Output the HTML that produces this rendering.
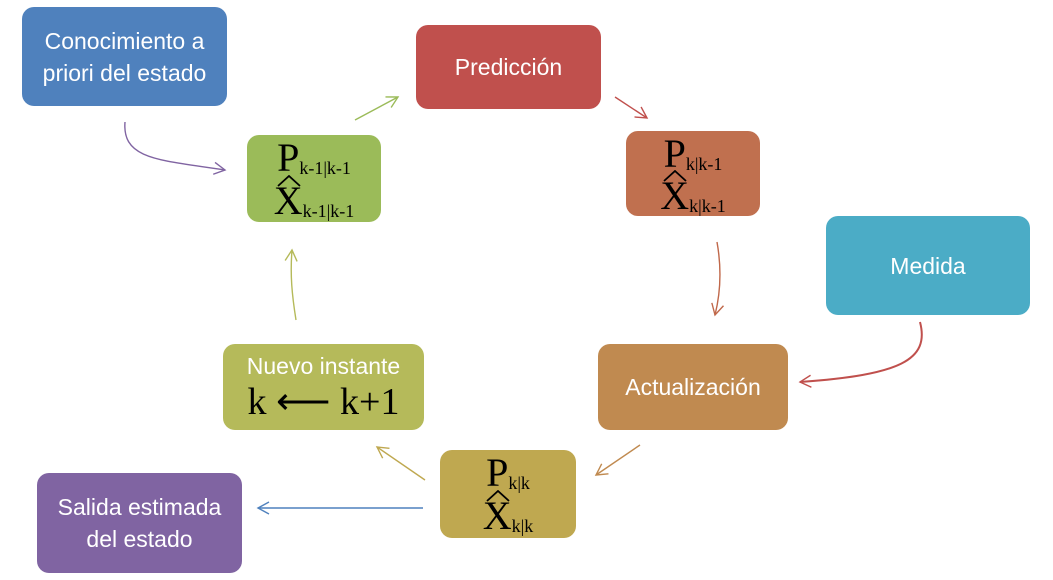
<!DOCTYPE html>
<html><head><meta charset="utf-8"><style>
body{margin:0;width:1053px;height:580px;background:#fff;position:relative;overflow:hidden;font-family:"Liberation Sans",sans-serif}
.b{position:absolute;border-radius:12px;color:#fff;display:flex;align-items:center;justify-content:center;text-align:center;font-size:23px;line-height:32px;box-sizing:border-box}
.m{display:block;font-family:"Liberation Serif",serif;color:#000}
.m .r{position:absolute;left:0;right:0;text-align:center;white-space:nowrap;height:40px;line-height:40px}
.m .big{font-size:40px;position:relative;display:inline-block}
.m sub{font-size:18px;vertical-align:-3px}
.hat{position:absolute;left:3px;top:-6px}
svg.c{position:absolute;left:0;top:0}
</style></head><body>
<svg class="c" width="1053" height="580">
<defs><marker id="a" markerWidth="14" markerHeight="14" refX="12" refY="7" orient="auto" markerUnits="userSpaceOnUse"><path d="M1,1 L12,7 L1,13" fill="none" stroke="context-stroke" stroke-width="1.4"/></marker></defs>
<g fill="none" stroke-width="1.4" marker-end="url(#a)">
<path d="M125,122 C122,160 160,160 225,170" stroke="#8064A2"/>
<path d="M355,120 L398,97" stroke="#9BBB59"/>
<path d="M615,97 L647,118" stroke="#C0504D"/>
<path d="M717,242 C722,270 720,295 715,315" stroke="#C0684A"/>
<path d="M920,322 C930,360 900,375 800,382" stroke="#C0504D" stroke-width="2"/>
<path d="M640,445 L596,475" stroke="#C08A50"/>
<path d="M425,480 L377,447" stroke="#BFA850"/>
<path d="M423,508 L258,508" stroke="#4F81BD"/>
<path d="M296,320 C292,295 290,275 292,250" stroke="#B5BA5A"/>
</g></svg>
<div class="b" style="left:22px;top:7px;width:205px;height:99px;background:#4F81BD">Conocimiento a<br>priori del estado</div>
<div class="b" style="left:416px;top:25px;width:185px;height:84px;background:#C0504D">Predicción</div>
<div class="b" style="left:826px;top:216px;width:204px;height:99px;background:#4BACC6">Medida</div>
<div class="b" style="left:598px;top:344px;width:190px;height:86px;background:#C08A50">Actualización</div>
<div class="b" style="left:37px;top:473px;width:205px;height:100px;background:#8064A2">Salida estimada<br>del estado</div>

<div class="b m" style="left:247px;top:135px;width:134px;height:87px;background:#9BBB59">
<div class="r" style="top:3px"><span class="big">P</span><sub>k-1|k-1</sub></div>
<div class="r" style="top:46px"><span class="big"><svg class="hat" width="24" height="12"><path d="M1,11 L12,1 L23,11" fill="none" stroke="#000" stroke-width="1.8"/></svg>X</span><sub>k-1|k-1</sub></div></div>

<div class="b m" style="left:626px;top:131px;width:134px;height:85px;background:#C0704F">
<div class="r" style="top:3px"><span class="big">P</span><sub>k|k-1</sub></div>
<div class="r" style="top:45px"><span class="big"><svg class="hat" width="24" height="12"><path d="M1,11 L12,1 L23,11" fill="none" stroke="#000" stroke-width="1.8"/></svg>X</span><sub>k|k-1</sub></div></div>

<div class="b m" style="left:440px;top:450px;width:136px;height:88px;background:#BFA850">
<div class="r" style="top:3px"><span class="big">P</span><sub>k|k</sub></div>
<div class="r" style="top:46px"><span class="big"><svg class="hat" width="24" height="12"><path d="M1,11 L12,1 L23,11" fill="none" stroke="#000" stroke-width="1.8"/></svg>X</span><sub>k|k</sub></div></div>

<div class="b" style="left:223px;top:344px;width:201px;height:86px;background:#B5BA5A;flex-direction:column;line-height:30px">
<div>Nuevo instante</div>
<div style="font-family:'Liberation Serif',serif;color:#000;font-size:38px;line-height:42px">k ⟵ k+1</div></div>
</body></html>
